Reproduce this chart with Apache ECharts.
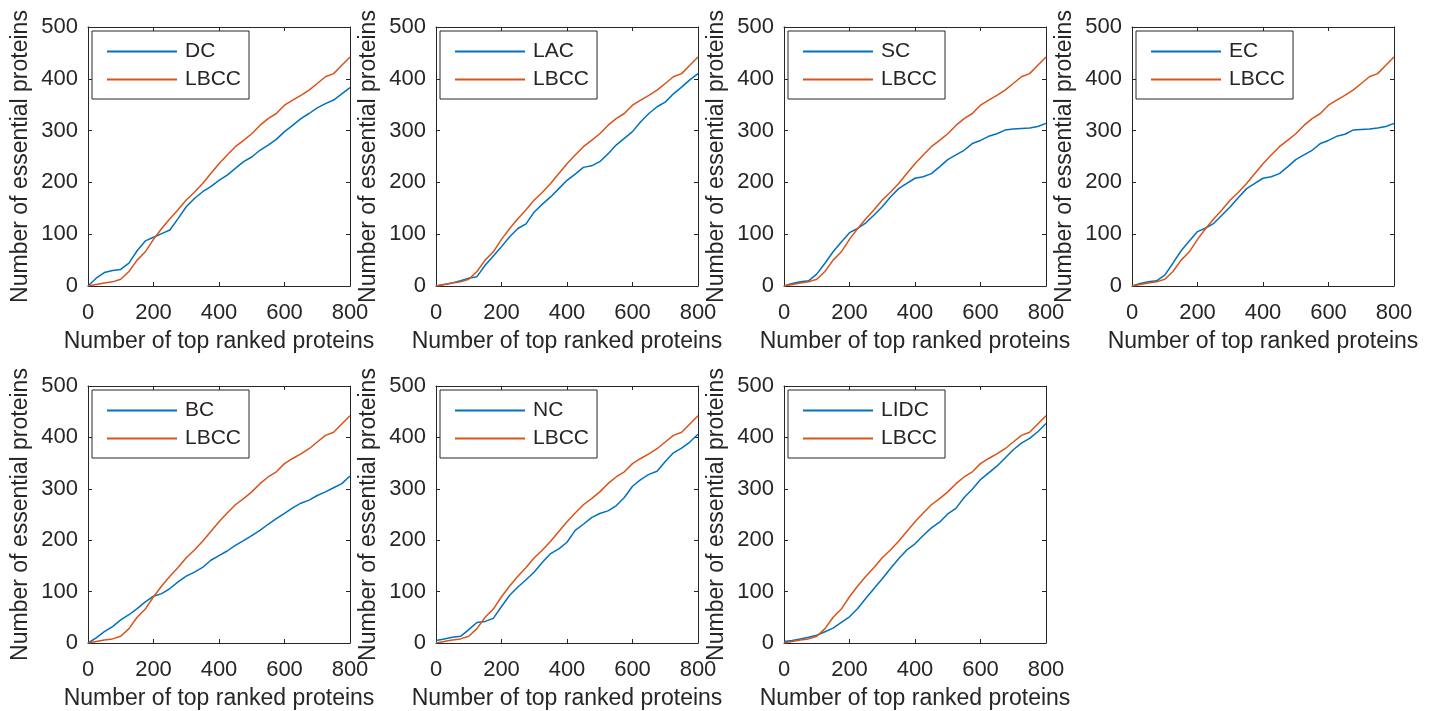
<!DOCTYPE html>
<html>
<head>
<meta charset="utf-8">
<script src="https://cdn.jsdelivr.net/npm/echarts@6/dist/echarts.min.js"></script>
<style>
html,body{margin:0;padding:0;background:#fff}
#main{width:1436px;height:711px}
</style>
</head>
<body>
<div id="main"></div>
<script>
// number of top ranked proteins (x)
var ranks = [0,25,50,75,100,125,150,175,200,225,250,275,300,325,350,375,400,425,450,475,500,525,550,575,600,625,650,675,700,725,750,775,800];

// number of essential proteins for each method (y)
var lbcc = [0,3,6,8,13,28,50,66,90,111,130,147,166,181,198,217,236,253,269,281,294,310,323,333,349,359,368,378,391,404,410,426,442];
var dc   = [0,15,26,30,32,44,68,87,94,101,108,130,153,169,182,192,204,214,227,240,249,262,272,283,298,310,323,333,344,352,359,371,383];
var lac  = [0,3,6,10,15,18,40,58,76,95,111,120,143,158,172,188,204,216,229,232,240,255,272,285,298,317,333,346,355,371,384,398,410];
var sc   = [0,5,8,10,23,44,66,85,103,111,122,137,153,172,188,198,208,211,217,230,244,253,262,275,281,289,294,301,303,304,305,308,314];
var ec   = [0,5,8,10,21,44,68,87,105,112,121,137,153,171,188,198,208,211,217,230,244,253,262,275,281,289,293,301,302,303,305,308,314];
var bc   = [0,10,22,32,45,55,67,80,91,96,106,119,130,138,147,161,170,179,190,199,209,219,231,242,252,263,272,278,287,294,302,310,325];
var nc   = [5,8,11,13,26,40,42,48,71,93,109,123,138,157,174,183,196,219,231,244,252,257,267,283,305,318,328,334,353,370,379,391,406];
var lidc = [3,5,8,11,15,22,29,40,51,67,87,106,125,145,164,181,193,209,224,235,251,262,283,299,318,331,344,360,376,389,398,411,427];

var methodNames = ['DC','LAC','SC','EC','BC','NC','LIDC'];
var methodValues = [dc, lac, sc, ec, bc, nc, lidc];

// axis ticks
var xMax = 800, xStep = 200;
var yMax = 500, yStep = 100;

var myChart = echarts.init(document.getElementById('main'));

var font = "'Liberation Sans', Arial, Helvetica, sans-serif";
var ink = '#262626';
var lefts = [88, 436, 784, 1132, 88, 436, 784];
var tops = [27, 27, 27, 27, 386, 386, 386];
var w = 262, h = 259;

var grids = [], xAxes = [], yAxes = [], series = [], legends = [];

function pairs(vals) {
	return ranks.map(function(r, i) { return [r, vals[i]]; });
}

for (var i = 0; i < methodNames.length; i++) {
	grids.push({left: lefts[i], top: tops[i], width: w, height: h, containLabel: false});

	var tick = {inside: true, length: 4, lineStyle: {color: ink, width: 1}};
	var line = {onZero: false, lineStyle: {color: ink, width: 1}};
	// bottom
	xAxes.push({
		gridIndex: i, type: 'value', position: 'bottom', min: 0, max: xMax, interval: xStep,
		axisLine: line, axisTick: tick, splitLine: {show: false},
		axisLabel: {color: ink, fontSize: 22, fontFamily: font, margin: 16},
		name: 'Number of top ranked proteins', nameLocation: 'middle', nameGap: 44,
		nameTextStyle: {color: ink, fontSize: 23, fontFamily: font}
	});
	// top (box)
	xAxes.push({
		gridIndex: i, type: 'value', position: 'top', min: 0, max: xMax, interval: xStep,
		axisLine: line, axisTick: tick, splitLine: {show: false}, axisLabel: {show: false}
	});
	// left
	yAxes.push({
		gridIndex: i, type: 'value', position: 'left', min: 0, max: yMax, interval: yStep,
		axisLine: line, axisTick: tick, splitLine: {show: false},
		axisLabel: {color: ink, fontSize: 22, fontFamily: font, margin: 10},
		name: 'Number of essential proteins', nameLocation: 'middle', nameGap: 56,
		nameTextStyle: {color: ink, fontSize: 23, fontFamily: font}
	});
	// right (box)
	yAxes.push({
		gridIndex: i, type: 'value', position: 'right', min: 0, max: yMax, interval: yStep,
		axisLine: line, axisTick: tick, splitLine: {show: false}, axisLabel: {show: false}
	});

	series.push({
		name: methodNames[i], type: 'line', xAxisIndex: i * 2, yAxisIndex: i * 2,
		symbol: 'none', data: pairs(methodValues[i]),
		lineStyle: {color: '#0072BD', width: 1.5}, itemStyle: {color: '#0072BD'}
	});
	series.push({
		name: 'LBCC', type: 'line', xAxisIndex: i * 2, yAxisIndex: i * 2,
		symbol: 'none', data: pairs(lbcc),
		lineStyle: {color: '#D95319', width: 1.5}, itemStyle: {color: '#D95319'}
	});

	legends.push({
		data: [methodNames[i], 'LBCC'],
		left: lefts[i] + 4, top: tops[i] + 4,
		orient: 'vertical', selectedMode: false,
		backgroundColor: '#fff', borderColor: ink, borderWidth: 1,
		padding: [10, 8, 9, 15], itemGap: 7, itemWidth: 70, itemHeight: 2, icon: 'rect',
		textStyle: {color: ink, fontSize: 21, fontFamily: font, width: 56, padding: [0, 0, 0, 3]}
	});
}

option = {
	animation: false,
	backgroundColor: '#fff',
	grid: grids,
	xAxis: xAxes,
	yAxis: yAxes,
	legend: legends,
	series: series
};

myChart.setOption(option);

window.addEventListener('resize', function() {
	myChart.resize();
});
</script>
</body>
</html>
